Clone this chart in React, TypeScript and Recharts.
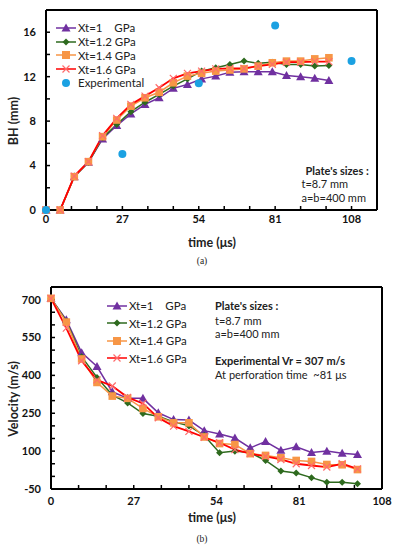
import React from 'react';
import { LineChart, Line, XAxis, YAxis, Legend } from 'recharts';

const FONT = 'Lato, "Open Sans", sans-serif';

// ---- Data ----
const times = [0, 5, 10, 15, 20, 25, 30, 35, 40, 45, 50, 55, 60, 65, 70, 75, 80, 85, 90, 95, 100];

const bhXt10 = [0, 0, 3.0, 4.3, 6.4, 7.6, 8.65, 9.5, 10.1, 10.95, 11.3, 11.8, 12.05, 12.4, 12.45, 12.45, 12.45, 12.1, 12.0, 11.85, 11.65];
const bhXt12 = [0, 0, 3.0, 4.3, 6.5, 7.7, 8.85, 9.7, 10.4, 11.15, 11.8, 12.5, 12.8, 13.1, 13.4, 13.2, 13.3, 13.1, 13.1, 12.95, 13.0];
const bhXt14 = [0, 0, 3.0, 4.35, 6.6, 8.1, 9.35, 10.1, 10.6, 11.45, 12.05, 12.3, 12.5, 12.6, 12.7, 12.95, 13.25, 13.4, 13.4, 13.6, 13.7];
const bhXt16 = [0, 0, 3.05, 4.35, 6.7, 8.25, 9.5, 10.25, 11.0, 11.85, 12.3, 12.5, 12.7, 12.75, 12.75, 12.95, 13.1, 13.3, 13.3, 13.35, 13.35];

const expTimes = [0, 27, 54, 81, 108];
const expBH = [0, 5.05, 11.4, 16.6, 13.4];

const velXt10 = [705, 620, 490, 435, 335, 309, 309, 252, 225, 223, 181, 168, 152, 113, 138, 103, 117, 95, 100, 92, 87];
const velXt12 = [705, 615, 474, 392, 322, 291, 249, 238, 216, 200, 162, 94, 100, 94, 63, 21, 13, -5, -23, -23, -29];
const velXt14 = [705, 611, 465, 372, 318, 309, 269, 236, 212, 212, 156, 130, 126, 90, 83, 74, 63, 59, 47, 46, 27];
const velXt16 = [705, 587, 458, 382, 358, 313, 289, 232, 199, 178, 155, 133, 106, 90, 79, 67, 50, 43, 37, 50, 30];

const seriesNames = ['Xt=1    GPa', 'Xt=1.2 GPa', 'Xt=1.4 GPa', 'Xt=1.6 GPa'];
const expName = 'Experimental';

const timeTicks = [0, 9, 18, 27, 36, 45, 54, 63, 72, 81, 90, 99, 108];
const timeLabels = [0, 27, 54, 81, 108];
const bhTicks = [0, 2, 4, 6, 8, 10, 12, 14, 16, 18];
const bhLabels = [0, 4, 8, 12, 16];
const velTicks = [-50, 0, 50, 100, 150, 200, 250, 300, 350, 400, 450, 500, 550, 600, 650, 700, 750];
const velLabels = [-50, 100, 250, 400, 550, 700];

const COLORS = {
  purple: '#7030A0',
  green: '#2E6A1E',
  orange: '#F79646',
  red: '#FF0000',
  redMark: '#FF6B6B',
  blue: '#1BA1E2',
};

const bhRows = times.map((t, i) => ({ t, a: bhXt10[i], b: bhXt12[i], c: bhXt14[i], d: bhXt16[i] }));
const expRows = expTimes.map((t, i) => ({ t, e: expBH[i] }));
const velRows = times.map((t, i) => ({ t, a: velXt10[i], b: velXt12[i], c: velXt14[i], d: velXt16[i] }));

// ---- Markers ----
type MP = { cx?: number; cy?: number; index?: number };
const triShape = (cx: number, cy: number, s = 1) =>
  `M${cx},${cy - 4.5 * s} L${cx + 4.5 * s},${cy + 3.5 * s} L${cx - 4.5 * s},${cy + 3.5 * s} Z`;

const TriDot = (p: MP) =>
  p.cx == null || p.cy == null ? <g key={`t${p.index}`} /> : (
    <path key={`t${p.index}`} d={triShape(p.cx, p.cy)} fill={COLORS.purple} />
  );
const DiaDot = (p: MP) =>
  p.cx == null || p.cy == null ? <g key={`g${p.index}`} /> : (
    <path key={`g${p.index}`} d={`M${p.cx},${p.cy - 3.5} L${p.cx + 3.5},${p.cy} L${p.cx},${p.cy + 3.5} L${p.cx - 3.5},${p.cy} Z`} fill={COLORS.green} />
  );
const SqDot = (p: MP) =>
  p.cx == null || p.cy == null ? <g key={`s${p.index}`} /> : (
    <rect key={`s${p.index}`} x={p.cx - 3.8} y={p.cy - 3.8} width={7.6} height={7.6} fill={COLORS.orange} />
  );
const XDot = (p: MP) =>
  p.cx == null || p.cy == null ? <g key={`x${p.index}`} /> : (
    <path key={`x${p.index}`} d={`M${p.cx - 3.5},${p.cy - 3.5} L${p.cx + 3.5},${p.cy + 3.5} M${p.cx + 3.5},${p.cy - 3.5} L${p.cx - 3.5},${p.cy + 3.5}`} stroke={COLORS.redMark} strokeWidth={1.2} fill="none" />
  );
const CircDot = (p: MP) =>
  p.cx == null || p.cy == null ? <g key={`c${p.index}`} /> : (
    <circle key={`c${p.index}`} cx={p.cx} cy={p.cy} r={4} fill={COLORS.blue} />
  );

// ---- Legend ----
const legendMarker = (kind: string) => {
  const cx = 10, cy = 6;
  switch (kind) {
    case 'tri': return <path d={triShape(cx, cy)} fill={COLORS.purple} />;
    case 'dia': return <path d={`M${cx},${cy - 3.5} L${cx + 3.5},${cy} L${cx},${cy + 3.5} L${cx - 3.5},${cy} Z`} fill={COLORS.green} />;
    case 'sq': return <rect x={cx - 4} y={cy - 4} width={8} height={8} fill={COLORS.orange} />;
    case 'x': return <path d={`M${cx - 3.5},${cy - 3.5} L${cx + 3.5},${cy + 3.5} M${cx + 3.5},${cy - 3.5} L${cx - 3.5},${cy + 3.5}`} stroke={COLORS.redMark} strokeWidth={1.2} />;
    default: return <circle cx={cx} cy={cy} r={4} fill={COLORS.blue} />;
  }
};

type LItem = { name: string; color: string; kind: string; line: boolean };
const makeLegend = (items: LItem[], rowH: number) => () => (
  <div style={{ fontFamily: FONT, fontSize: 11.5, color: '#222' }}>
    {items.map((it) => (
      <div key={it.name} style={{ display: 'flex', alignItems: 'center', height: rowH }}>
        <svg width={20} height={12} style={{ marginRight: 2 }}>
          {it.line && <line x1={0} y1={6} x2={20} y2={6} stroke={it.color} strokeWidth={1.5} />}
          {legendMarker(it.kind)}
        </svg>
        <span style={{ whiteSpace: 'pre' }}>{it.name}</span>
      </div>
    ))}
  </div>
);

const lineItems: LItem[] = [
  { name: seriesNames[0], color: COLORS.purple, kind: 'tri', line: true },
  { name: seriesNames[1], color: COLORS.green, kind: 'dia', line: true },
  { name: seriesNames[2], color: COLORS.orange, kind: 'sq', line: true },
  { name: seriesNames[3], color: COLORS.red, kind: 'x', line: true },
];
const legendA = makeLegend([...lineItems, { name: expName, color: COLORS.blue, kind: 'circ', line: false }], 13.75);
const legendB = makeLegend(lineItems, 17.5);

const tickStyle = { fontFamily: FONT, fontSize: 11, fontWeight: 700, fill: '#111' };
const axisLine = { stroke: '#000', strokeWidth: 2 };
const tickLine = { stroke: '#000', strokeWidth: 1.5 };

const fmtSet = (set: number[]) => (v: number) => (set.includes(v) ? String(v) : '');

const textStyle = (x: number, y: number, extra: React.CSSProperties = {}): React.CSSProperties => ({
  position: 'absolute', left: x, top: y, fontFamily: FONT, fontSize: 11, color: '#222', whiteSpace: 'pre', lineHeight: '13px', ...extra,
});

export default function App() {
  return (
    <div style={{ position: 'absolute', left: 0, top: 0, width: 399, height: 550, background: '#fff', overflow: 'hidden' }}>
      {/* Chart (a) */}
      <div style={{ position: 'absolute', left: 0, top: 0 }}>
        <LineChart width={399} height={260} data={bhRows} margin={{ top: 9, right: 21, left: 0, bottom: 0 }}>
          <XAxis xAxisId="b" type="number" dataKey="t" domain={[0, 117]} ticks={timeTicks} tickFormatter={fmtSet(timeLabels)}
            height={50} tickSize={-4} tickMargin={9} axisLine={axisLine} tickLine={tickLine} tick={tickStyle} interval={0} />
          <XAxis xAxisId="top" orientation="top" type="number" dataKey="t" domain={[0, 117]} ticks={timeTicks} height={1}
            tickSize={-4} tick={false} axisLine={axisLine} tickLine={tickLine} interval={0} />
          <YAxis yAxisId="l" type="number" domain={[0, 18]} ticks={bhTicks} tickFormatter={fmtSet(bhLabels)} width={46}
            tickSize={-4} tickMargin={14} axisLine={axisLine} tickLine={tickLine} tick={tickStyle} interval={0} />
          <YAxis yAxisId="r" orientation="right" type="number" domain={[0, 18]} ticks={bhTicks} width={1}
            tickSize={-4} tick={false} axisLine={axisLine} tickLine={tickLine} interval={0} />
          <Line xAxisId="b" yAxisId="l" dataKey="a" stroke={COLORS.purple} strokeWidth={1.5} dot={TriDot} isAnimationActive={false} />
          <Line xAxisId="b" yAxisId="l" dataKey="b" stroke={COLORS.green} strokeWidth={1.5} dot={DiaDot} isAnimationActive={false} />
          <Line xAxisId="b" yAxisId="l" dataKey="c" stroke={COLORS.orange} strokeWidth={1.5} dot={SqDot} isAnimationActive={false} />
          <Line xAxisId="b" yAxisId="l" dataKey="d" stroke={COLORS.red} strokeWidth={1.8} dot={XDot} isAnimationActive={false} />
          <Line xAxisId="b" yAxisId="l" data={expRows} dataKey="e" stroke="none" dot={CircDot} isAnimationActive={false} zIndex={1000} />
          <Legend content={legendA} verticalAlign="middle" align="center" layout="horizontal"
            wrapperStyle={{ position: 'absolute', left: 56, top: 21, width: 'auto' }} />
        </LineChart>
      </div>

      {/* Chart (b) */}
      <div style={{ position: 'absolute', left: 0, top: 270 }}>
        <LineChart width={399} height={280} data={velRows} margin={{ top: 16, right: 16, left: 0, bottom: 0 }}>
          <XAxis xAxisId="b" type="number" dataKey="t" domain={[0, 108]} ticks={timeTicks} tickFormatter={fmtSet(timeLabels)}
            height={61} tickSize={-4} tickMargin={12} axisLine={axisLine} tickLine={tickLine} tick={tickStyle} interval={0} />
          <XAxis xAxisId="top" orientation="top" type="number" dataKey="t" domain={[0, 108]} ticks={timeTicks} height={1}
            tickSize={-4} tick={false} axisLine={axisLine} tickLine={tickLine} interval={0} />
          <YAxis yAxisId="l" type="number" domain={[-50, 750]} ticks={velTicks} tickFormatter={fmtSet(velLabels)} width={51}
            tickSize={-4} tickMargin={14} axisLine={axisLine} tickLine={tickLine} tick={tickStyle} interval={0} />
          <YAxis yAxisId="r" orientation="right" type="number" domain={[-50, 750]} ticks={velTicks} width={1}
            tickSize={-4} tick={false} axisLine={axisLine} tickLine={tickLine} interval={0} />
          <Line xAxisId="b" yAxisId="l" dataKey="a" stroke={COLORS.purple} strokeWidth={1.5} dot={TriDot} isAnimationActive={false} />
          <Line xAxisId="b" yAxisId="l" dataKey="b" stroke={COLORS.green} strokeWidth={1.5} dot={DiaDot} isAnimationActive={false} />
          <Line xAxisId="b" yAxisId="l" dataKey="c" stroke={COLORS.orange} strokeWidth={1.5} dot={SqDot} isAnimationActive={false} />
          <Line xAxisId="b" yAxisId="l" dataKey="d" stroke={COLORS.red} strokeWidth={1.8} dot={XDot} isAnimationActive={false} />
          <Legend content={legendB} verticalAlign="middle" align="center" layout="horizontal"
            wrapperStyle={{ position: 'absolute', left: 107, top: 27, width: 'auto' }} />
        </LineChart>
      </div>

      {/* Axis titles */}
      <div style={textStyle(12.5, 121, { fontSize: 12.5, fontWeight: 700, transform: 'translate(-50%,-50%) rotate(-90deg)', lineHeight: '15px' })}>BH (mm)</div>
      <div style={textStyle(212, 242, { fontSize: 12.5, fontWeight: 700, transform: 'translate(-50%,-50%)', lineHeight: '15px' })}>time (μs)</div>
      <div style={textStyle(202, 261, { fontSize: 9.5, fontFamily: '"Liberation Serif", serif', transform: 'translate(-50%,-50%)' })}>(a)</div>

      <div style={textStyle(12.5, 399, { fontSize: 12.5, fontWeight: 700, transform: 'translate(-50%,-50%) rotate(-90deg)', lineHeight: '15px' })}>Velocity (m/s)</div>
      <div style={textStyle(212, 517, { fontSize: 12.5, fontWeight: 700, transform: 'translate(-50%,-50%)', lineHeight: '15px' })}>time (μs)</div>
      <div style={textStyle(202, 539, { fontSize: 9.5, fontFamily: '"Liberation Serif", serif', transform: 'translate(-50%,-50%)' })}>(b)</div>

      {/* Annotations (a) */}
      <div style={textStyle(305.5, 163.5, { fontWeight: 700 })}>Plate's sizes :</div>
      <div style={textStyle(301.5, 177)}>t=8.7 mm</div>
      <div style={textStyle(301.5, 191)}>a=b=400 mm</div>

      {/* Annotations (b) */}
      <div style={textStyle(215, 299, { fontWeight: 700 })}>Plate's sizes :</div>
      <div style={textStyle(215, 313.5)}>t=8.7 mm</div>
      <div style={textStyle(215, 327)}>a=b=400 mm</div>
      <div style={textStyle(215, 353.5, { fontWeight: 700 })}>Experimental Vr = 307 m/s</div>
      <div style={textStyle(215, 367.5)}>At perforation time  ~81 μs</div>
    </div>
  );
}
